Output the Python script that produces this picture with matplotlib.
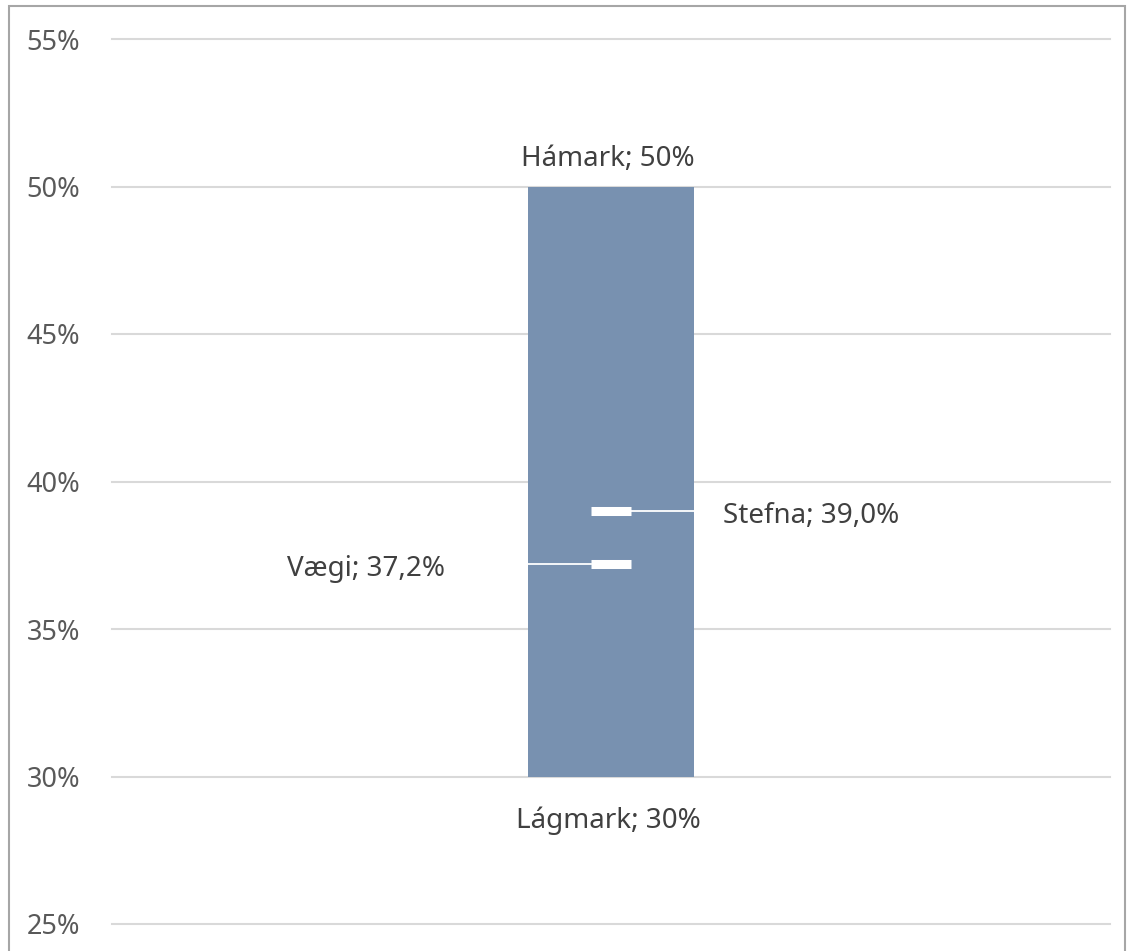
import matplotlib.pyplot as plt
from matplotlib.ticker import FuncFormatter
from matplotlib.patches import Rectangle

plt.rcParams['font.family'] = ['Noto Sans', 'DejaVu Sans']

# values
lagmark = 30.0
hamark = 50.0
stefna = 39.0
vaegi = 37.2
yticks = [25, 30, 35, 40, 45, 50, 55]

W, H = 1127, 951
fig = plt.figure(figsize=(W / 100, H / 100), dpi=100)
ax = fig.add_axes([112 / W, 1 - 924 / H, (1110 - 112) / W, (924 - 39) / H])

bar_w = 166 / 998
ax.bar([0], [hamark - lagmark], bottom=lagmark, width=bar_w, color='#7891B0', zorder=2)

# markers: thick white tick at centre plus thin connector
mk = 0.02
for val, side in [(stefna, 1), (vaegi, -1)]:
    ax.plot([-mk, mk], [val, val], color='white', lw=6.5, solid_capstyle='butt', zorder=3)
    x_end = side * bar_w / 2
    ax.plot([side * mk, x_end], [val, val], color='white', lw=1.3, zorder=3)

fs = 20
txt = dict(fontsize=fs, color='#404040', va='baseline')
ax.text(-0.003, hamark + 0.71, f'Hámark; {hamark:.0f}%', ha='center', **txt)
ax.text(-0.003, lagmark - 1.73, f'Lágmark; {lagmark:.0f}%', ha='center', **txt)
ax.text(0.112, stefna - 0.42, 'Stefna; ' + f'{stefna:.1f}'.replace('.', ',') + '%', ha='left', **txt)
ax.text(-0.166, vaegi - 0.39, 'Vægi; ' + f'{vaegi:.1f}'.replace('.', ',') + '%', ha='right', **txt)

ax.set_xlim(-0.5, 0.5)
ax.set_ylim(25, 55)
ax.set_yticks(yticks)
ax.yaxis.set_major_formatter(FuncFormatter(lambda v, p: f'{v:.0f}%'))
ax.set_xticks([])
ax.tick_params(axis='y', length=0, pad=23, labelsize=19.5, labelcolor='#595959')
ax.grid(axis='y', color='#D9D9D9', lw=1.5, zorder=0)
for gl in ax.yaxis.get_gridlines():
    gl.set_clip_on(False)
for s in ax.spines.values():
    s.set_visible(False)

# outer chart border
fig.patches.append(Rectangle((8.5 / W, -0.01), (1125 - 8.5) / W, 1 - 5.5 / H + 0.01,
                             transform=fig.transFigure, fill=False, edgecolor='#A6A6A6', lw=1.5))

fig.savefig('out.png', dpi=100)
